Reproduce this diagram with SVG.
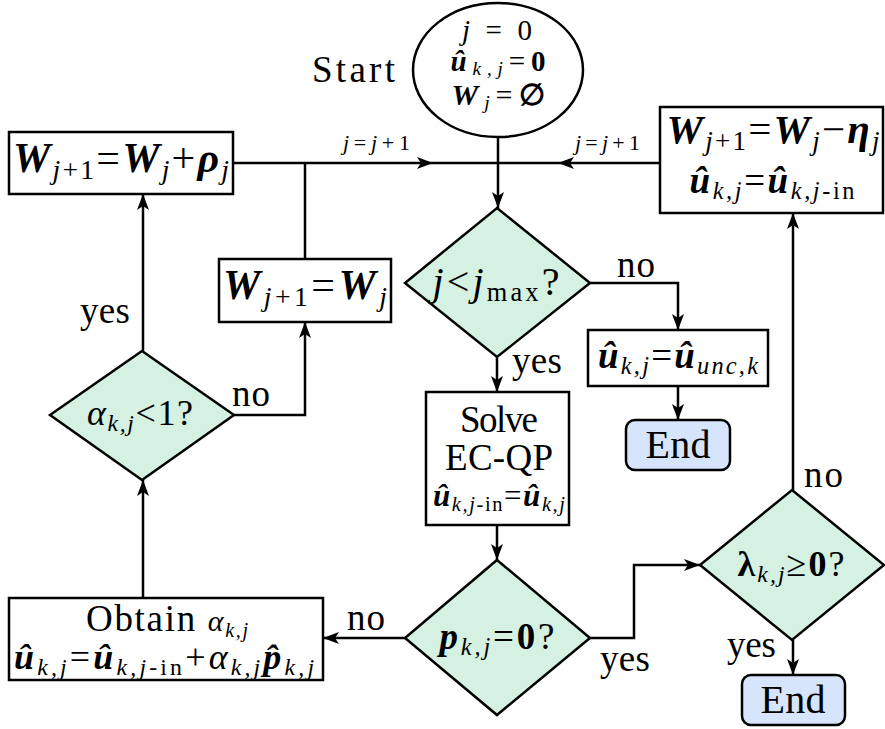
<svg xmlns="http://www.w3.org/2000/svg" width="885" height="729" viewBox="0 0 885 729" font-family="Liberation Serif, Times New Roman, serif">
<defs>
<style>
.n{fill:#fff;stroke:#000;stroke-width:2.5}
.d{fill:#d4f1e1;stroke:#000;stroke-width:2.5}
.e{fill:#d6e5fb;stroke:#000;stroke-width:2.5}
.c{fill:none;stroke:#000;stroke-width:2.5}
text{fill:#000}
.i{font-style:italic}
.b{font-weight:bold;font-style:italic}
.bu{font-weight:bold}
.s{font-size:0.66em}
.l{font-size:37px}
.q{font-size:22px}
</style>
<marker id="ar" markerUnits="userSpaceOnUse" viewBox="0 0 16 12" refX="16" refY="6" markerWidth="16" markerHeight="12" orient="auto">
<path d="M0,0 L16,6 L0,12 L4,6 Z" fill="#000"/>
</marker>
</defs>
<rect width="885" height="729" fill="#fff"/>

<g id="connectors">
<path class="c" d="M498,137 V208" marker-end="url(#ar)"/>
<path class="c" d="M233,163 H433" marker-end="url(#ar)"/>
<path class="c" d="M433,163 H498"/>
<path class="c" d="M660,163 H558" marker-end="url(#ar)"/>
<path class="c" d="M558,163 H498"/>
<path class="c" d="M305,259 V163"/>
<path class="c" d="M590,283 H678 V330" marker-end="url(#ar)"/>
<path class="c" d="M678,386 V420" marker-end="url(#ar)"/>
<path class="c" d="M497,357 V392" marker-end="url(#ar)"/>
<path class="c" d="M497,525 V560" marker-end="url(#ar)"/>
<path class="c" d="M590,638 H634 V565 H700" marker-end="url(#ar)"/>
<path class="c" d="M405,638 H323" marker-end="url(#ar)"/>
<path class="c" d="M143,598 V480" marker-end="url(#ar)"/>
<path class="c" d="M143,351 V194" marker-end="url(#ar)"/>
<path class="c" d="M234,415 H305 V322" marker-end="url(#ar)"/>
<path class="c" d="M793,490 V213" marker-end="url(#ar)"/>
<path class="c" d="M793,640 V675" marker-end="url(#ar)"/>
<text class="q" x="343" y="150" textLength="67" lengthAdjust="spacing"><tspan class="i">j</tspan>=<tspan class="i">j</tspan>+1</text>
<text class="q" x="575" y="150" textLength="65" lengthAdjust="spacing"><tspan class="i">j</tspan>=<tspan class="i">j</tspan>+1</text>
<text class="l" x="80" y="323" textLength="50">yes</text>
<text class="l" x="232" y="406" textLength="38">no</text>
<text class="l" x="617" y="277" textLength="38">no</text>
<text class="l" x="512" y="373" textLength="50">yes</text>
<text class="l" x="347" y="630" textLength="38">no</text>
<text class="l" x="600" y="671" textLength="50">yes</text>
<text class="l" x="727" y="657" textLength="49">yes</text>
<text class="l" x="804" y="487" textLength="39">no</text>
</g>

<g id="start">
<ellipse class="n" cx="498" cy="70" rx="85" ry="67"/>
<text class="l" x="312" y="82" textLength="83">Start</text>
<text x="497" y="40" text-anchor="middle" textLength="70" style="font-size:29px"><tspan class="i">j</tspan> = 0</text>
<text x="498" y="71" text-anchor="middle" textLength="95" style="font-size:29px"><tspan class="b">û</tspan><tspan class="s i" dy="4">k,j</tspan><tspan dy="-4">=</tspan><tspan class="bu">0</tspan></text>
<text x="498" y="105" text-anchor="middle" textLength="93" style="font-size:30px"><tspan class="b">W</tspan><tspan class="s i" dy="4">j</tspan><tspan dy="-4">=</tspan><tspan class="bu">∅</tspan></text>
</g>

<g id="wplus">
<rect class="n" x="9" y="132" width="224" height="62"/>
<text x="121" y="172" text-anchor="middle" textLength="216" style="font-size:42px"><tspan class="b">W</tspan><tspan class="s i" dy="7">j</tspan><tspan class="s">+1</tspan><tspan dy="-7">=</tspan><tspan class="b">W</tspan><tspan class="s i" dy="7">j</tspan><tspan dy="-7">+</tspan><tspan class="b">ρ</tspan><tspan class="s i" dy="7">j</tspan></text>
</g>

<g id="wsame">
<rect class="n" x="219" y="259" width="172" height="63"/>
<text x="305" y="299" text-anchor="middle" textLength="164" style="font-size:42px"><tspan class="b">W</tspan><tspan class="s i" dy="7">j</tspan><tspan class="s">+1</tspan><tspan dy="-7">=</tspan><tspan class="b">W</tspan><tspan class="s i" dy="7">j</tspan></text>
</g>

<g id="wminus">
<rect class="n" x="660" y="107" width="223" height="106"/>
<text x="773" y="143" text-anchor="middle" textLength="213" style="font-size:41px"><tspan class="b">W</tspan><tspan class="s i" dy="7">j</tspan><tspan class="s">+1</tspan><tspan dy="-7">=</tspan><tspan class="b">W</tspan><tspan class="s i" dy="7">j</tspan><tspan dy="-7">−</tspan><tspan class="b">η</tspan><tspan class="s i" dy="7">j</tspan></text>
<text x="772" y="193" text-anchor="middle" textLength="165" style="font-size:37px"><tspan class="b">û</tspan><tspan class="s i" dy="6">k,j</tspan><tspan dy="-6">=</tspan><tspan class="b">û</tspan><tspan class="s i" dy="6">k,j</tspan><tspan class="s">-in</tspan></text>
</g>

<g id="jmax">
<polygon class="d" points="497,208 590,283 497,357 405,283"/>
<text x="496" y="295" text-anchor="middle" textLength="127" style="font-size:40px"><tspan class="i">j</tspan>&lt;<tspan class="i">j</tspan><tspan class="s" dy="6">max</tspan><tspan dy="-6">?</tspan></text>
</g>

<g id="unc">
<rect class="n" x="588" y="330" width="180" height="56"/>
<text x="678" y="368" text-anchor="middle" textLength="160" style="font-size:37px"><tspan class="b">û</tspan><tspan class="s i" dy="6">k,j</tspan><tspan dy="-6">=</tspan><tspan class="b">û</tspan><tspan class="s i" dy="6">unc,k</tspan></text>
</g>

<g id="end1">
<rect class="e" x="626" y="420" width="104" height="50" rx="9"/>
<text x="678" y="458" text-anchor="middle" style="font-size:40px" textLength="65">End</text>
</g>

<g id="solve">
<rect class="n" x="426" y="392" width="143" height="133"/>
<text x="499" y="432" text-anchor="middle" textLength="78" style="font-size:37px">Solve</text>
<text x="499" y="470" text-anchor="middle" textLength="108" style="font-size:37px">EC-QP</text>
<text x="499" y="506" text-anchor="middle" style="font-size:31px" textLength="132"><tspan class="b">û</tspan><tspan class="s i" dy="5">k,j</tspan><tspan class="s">-in</tspan><tspan dy="-5">=</tspan><tspan class="b">û</tspan><tspan class="s i" dy="5">k,j</tspan></text>
</g>

<g id="alpha">
<polygon class="d" points="142,351 234,415 142,480 50,415"/>
<text x="140" y="425" text-anchor="middle" textLength="106" style="font-size:36px"><tspan class="i">α</tspan><tspan class="s i" dy="6">k,j</tspan><tspan dy="-6">&lt;1?</tspan></text>
</g>

<g id="pzero">
<polygon class="d" points="497,560 590,638 497,715 405,638"/>
<text x="497" y="649" text-anchor="middle" textLength="115" style="font-size:37px"><tspan class="b">p</tspan><tspan class="s i" dy="6">k,j</tspan><tspan dy="-6">=</tspan><tspan class="bu">0</tspan>?</text>
</g>

<g id="lambda">
<polygon class="d" points="792,490 884,565 792,640 700,565"/>
<text x="791" y="576" text-anchor="middle" textLength="107" style="font-size:36px"><tspan class="bu">λ</tspan><tspan class="s i" dy="6">k,j</tspan><tspan dy="-6">≥</tspan><tspan class="bu">0</tspan>?</text>
</g>

<g id="obtain">
<rect class="n" x="9" y="598" width="314" height="82"/>
<text x="167" y="631" text-anchor="middle" textLength="162" style="font-size:37px">Obtain <tspan class="i" style="font-size:30px">α</tspan><tspan class="i" style="font-size:20px" dy="6">k,j</tspan></text>
<text x="164" y="669" text-anchor="middle" textLength="300" style="font-size:36px"><tspan class="b">û</tspan><tspan class="s i" dy="6">k,j</tspan><tspan dy="-6">=</tspan><tspan class="b">û</tspan><tspan class="s i" dy="6">k,j</tspan><tspan class="s">-in</tspan><tspan dy="-6">+</tspan><tspan class="i">α</tspan><tspan class="s i" dy="6">k,j</tspan><tspan class="b" dy="-6">p̂</tspan><tspan class="s i" dy="6">k,j</tspan></text>
</g>

<g id="end2">
<rect class="e" x="742" y="675" width="103" height="50" rx="9"/>
<text x="793" y="713" text-anchor="middle" style="font-size:40px" textLength="65">End</text>
</g>
</svg>
